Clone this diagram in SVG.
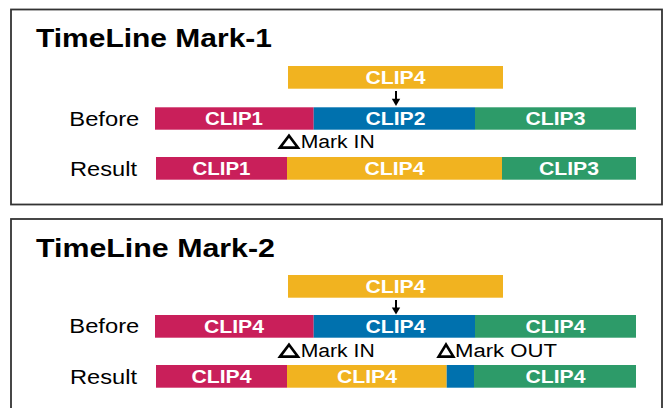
<svg xmlns="http://www.w3.org/2000/svg" width="664" height="408" viewBox="0 0 664 408">
<style>
.panel{fill:#fff;stroke:#333;stroke-width:1.8}
.title{font-family:"Liberation Sans",Arial,sans-serif;font-weight:bold;font-size:26.5px;fill:#000}
.lbl{font-family:"Liberation Sans",Arial,sans-serif;font-size:20px;fill:#000}
.mark{font-family:"Liberation Sans",Arial,sans-serif;font-size:18px;fill:#000}
.clip{font-family:"Liberation Sans",Arial,sans-serif;font-weight:bold;font-size:17.5px;fill:#fff;text-anchor:middle}
.r{fill:#C91F5A}.b{fill:#0071AE}.g{fill:#2D9B69}.y{fill:#F1B320}
.tri{fill:none;stroke:#000;stroke-width:2.6;stroke-linejoin:miter}
.arr{stroke:#000;stroke-width:2;fill:none}
.head{fill:#000}
</style>
<rect width="664" height="408" fill="#fff"/>

<g id="panel1">
<rect class="panel" x="11" y="9.5" width="651" height="195"/>
<text class="title" x="36" y="47" textLength="236" lengthAdjust="spacingAndGlyphs">TimeLine Mark-1</text>
<text class="lbl" x="69.3" y="126" textLength="70" lengthAdjust="spacingAndGlyphs">Before</text>
<text class="lbl" x="70" y="175.7" textLength="67" lengthAdjust="spacingAndGlyphs">Result</text>
</g>
<g id="p1-top-clip4"><rect class="y" x="288" y="66" width="215" height="22.7"/><text class="clip" x="395.5" y="84" textLength="60" lengthAdjust="spacingAndGlyphs">CLIP4</text></g>
<g id="p1-before-clip1"><rect class="r" x="155" y="107.3" width="158.7" height="22.4"/><text class="clip" x="234" y="125" textLength="58" lengthAdjust="spacingAndGlyphs">CLIP1</text></g>
<g id="p1-before-clip2"><rect class="b" x="313.7" y="107.3" width="161.3" height="22.4"/><text class="clip" x="395.5" y="125" textLength="60" lengthAdjust="spacingAndGlyphs">CLIP2</text></g>
<g id="p1-before-clip3"><rect class="g" x="475" y="107.3" width="161" height="22.4"/><text class="clip" x="555.5" y="125" textLength="60" lengthAdjust="spacingAndGlyphs">CLIP3</text></g>
<g id="p1-markin"><path class="tri" d="M280,147.6 L289,135.6 L298,147.6 Z"/><text class="mark" x="300.7" y="148.3" textLength="74" lengthAdjust="spacingAndGlyphs">Mark IN</text></g>
<g id="p1-result-clip1"><rect class="r" x="156" y="157" width="131" height="22.7"/><text class="clip" x="221.5" y="175" textLength="58" lengthAdjust="spacingAndGlyphs">CLIP1</text></g>
<g id="p1-result-clip4"><rect class="y" x="287" y="157" width="215" height="22.7"/><text class="clip" x="394.5" y="175" textLength="60" lengthAdjust="spacingAndGlyphs">CLIP4</text></g>
<g id="p1-result-clip3"><rect class="g" x="502" y="157" width="134" height="22.7"/><text class="clip" x="569" y="175" textLength="60" lengthAdjust="spacingAndGlyphs">CLIP3</text></g>

<g id="panel2">
<rect class="panel" x="11" y="219" width="651" height="200"/>
<text class="title" x="36" y="257.3" textLength="239" lengthAdjust="spacingAndGlyphs">TimeLine Mark-2</text>
<text class="lbl" x="69.3" y="333.3" textLength="70" lengthAdjust="spacingAndGlyphs">Before</text>
<text class="lbl" x="70" y="384" textLength="67" lengthAdjust="spacingAndGlyphs">Result</text>
</g>
<g id="p2-top-clip4"><rect class="y" x="288" y="275" width="215" height="22.7"/><text class="clip" x="395.5" y="293" textLength="60" lengthAdjust="spacingAndGlyphs">CLIP4</text></g>
<g id="p2-before-clip4a"><rect class="r" x="155" y="315" width="158.7" height="22.7"/><text class="clip" x="234" y="333" textLength="60" lengthAdjust="spacingAndGlyphs">CLIP4</text></g>
<g id="p2-before-clip4b"><rect class="b" x="313.7" y="315" width="161.3" height="22.7"/><text class="clip" x="395.5" y="333" textLength="60" lengthAdjust="spacingAndGlyphs">CLIP4</text></g>
<g id="p2-before-clip4c"><rect class="g" x="475" y="315" width="161" height="22.7"/><text class="clip" x="555.5" y="333" textLength="60" lengthAdjust="spacingAndGlyphs">CLIP4</text></g>
<g id="p2-markin"><path class="tri" d="M280,356.6 L289,344.6 L298,356.6 Z"/><text class="mark" x="300.7" y="357.3" textLength="74" lengthAdjust="spacingAndGlyphs">Mark IN</text></g>
<g id="p2-markout"><path class="tri" d="M438.6,356.6 L446,344.6 L453.4,356.6 Z"/><text class="mark" x="455" y="357.3" textLength="102" lengthAdjust="spacingAndGlyphs">Mark OUT</text></g>
<g id="p2-result-clip4a"><rect class="r" x="156" y="365" width="131" height="22.7"/><text class="clip" x="221.5" y="383" textLength="60" lengthAdjust="spacingAndGlyphs">CLIP4</text></g>
<g id="p2-result-clip4b"><rect class="y" x="287" y="365" width="159.7" height="22.7"/><text class="clip" x="367" y="383" textLength="60" lengthAdjust="spacingAndGlyphs">CLIP4</text></g>
<g id="p2-result-blue"><rect class="b" x="446.7" y="365" width="27.3" height="22.7"/></g>
<g id="p2-result-clip4c"><rect class="g" x="474" y="365" width="162" height="22.7"/><text class="clip" x="555.5" y="383" textLength="60" lengthAdjust="spacingAndGlyphs">CLIP4</text></g>

<g id="connectors">
<line class="arr" x1="396" y1="91" x2="396" y2="99.5"/>
<path class="head" d="M391.8,98.8 L400.2,98.8 L396,106 Z"/>
<line class="arr" x1="396" y1="300" x2="396" y2="308.3"/>
<path class="head" d="M391.8,307.6 L400.2,307.6 L396,314.6 Z"/>
</g>
</svg>
